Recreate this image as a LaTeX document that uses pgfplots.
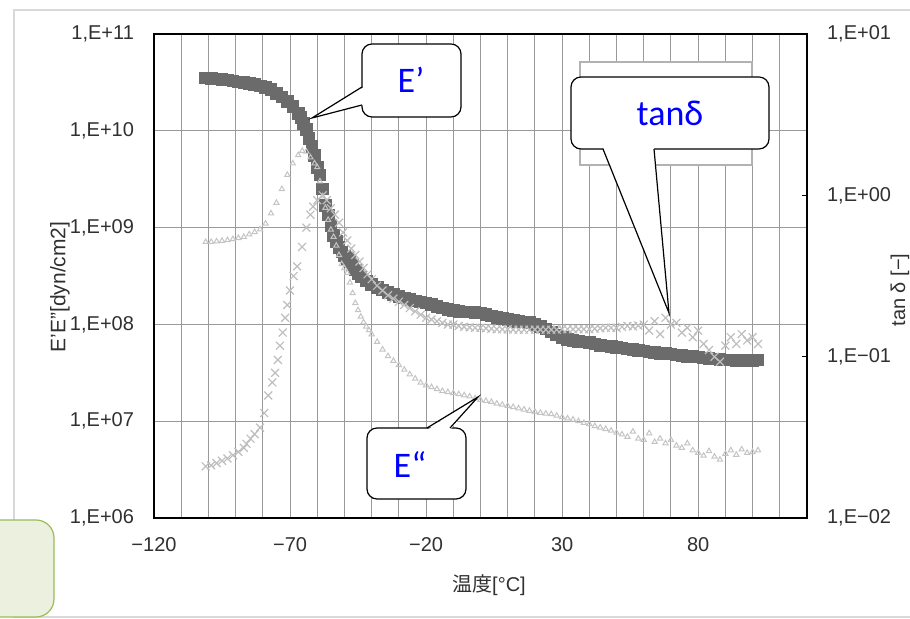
\documentclass[border=0pt]{standalone}
\usepackage{fontspec}
\setmainfont{Liberation Sans}
\newfontfamily\cjk{Noto Sans CJK JP}
\newfontfamily\callfont{Carlito}
\usepackage{pgfplots}
\pgfplotsset{compat=1.18}
\definecolor{edark}{HTML}{6B6B6B}
\definecolor{elight}{HTML}{C4C4C4}
\definecolor{tanc}{HTML}{BEBEBE}
\definecolor{gridc}{HTML}{9A9A9A}
\definecolor{tickc}{HTML}{303030}
\definecolor{boxfill}{HTML}{EBF1DE}
\definecolor{boxline}{HTML}{9BBB59}

\pgfplotstableread{
x y
-101 3.51e10
-99 3.48e10
-97 3.45e10
-95 3.39e10
-93 3.35e10
-91 3.27e10
-89 3.20e10
-87 3.14e10
-85 3.09e10
-83 3.00e10
-81 2.92e10
-79 2.82e10
-77 2.66e10
-75 2.45e10
-73 2.24e10
-71 2.02e10
-69 1.78e10
-67 1.52e10
-66 1.38e10
-65 1.20e10
-64 1.04e10
-63 8.3e9
-62 6.9e9
-61 5.6e9
-60 4.2e9
-59 3.5e9
-58 2.5e9
-57 1.7e9
-56 1.35e9
-55 1.05e9
-54 8.3e8
-53 7.2e8
-52 6.2e8
-51 5.6e8
-50 5.1e8
-49 4.8e8
-48 4.5e8
-47 4.1e8
-46 3.65e8
-45 3.35e8
-44 3.1e8
-42 2.8e8
-40 2.6e8
-38 2.42e8
-36 2.28e8
-34 2.15e8
-32 2.05e8
-30 1.95e8
-28 1.88e8
-26 1.81e8
-24 1.75e8
-22 1.70e8
-20 1.66e8
-18 1.60e8
-16 1.54e8
-14 1.48e8
-12 1.43e8
-10 1.39e8
-8 1.37e8
-6 1.35e8
-4 1.34e8
-2 1.33e8
0 1.32e8
2 1.27e8
4 1.22e8
6 1.18e8
8 1.15e8
10 1.12e8
12 1.10e8
14 1.08e8
16 1.06e8
18 1.05e8
20 1.00e8
22 9.5e7
24 9.0e7
26 8.4e7
28 7.8e7
30 7.3e7
32 7.0e7
34 6.8e7
36 6.7e7
38 6.6e7
40 6.5e7
42 6.3e7
44 6.1e7
46 6.0e7
48 5.9e7
50 5.8e7
52 5.7e7
54 5.6e7
56 5.5e7
58 5.4e7
60 5.3e7
62 5.2e7
64 5.1e7
66 5.05e7
68 5.0e7
70 4.95e7
72 4.85e7
74 4.75e7
76 4.7e7
78 4.65e7
80 4.6e7
82 4.5e7
84 4.45e7
86 4.4e7
88 4.35e7
90 4.3e7
92 4.3e7
94 4.25e7
96 4.25e7
98 4.25e7
100 4.25e7
102 4.3e7
}\storage

\pgfplotstableread{
x y
-101 7.1e8
-99 7.1e8
-97 7.2e8
-95 7.3e8
-93 7.4e8
-91 7.6e8
-89 7.8e8
-87 8.0e8
-85 8.5e8
-83 9.0e8
-81 9.6e8
-79 1.1e9
-77 1.4e9
-75 1.8e9
-73 2.5e9
-71 3.5e9
-69 4.6e9
-67 5.6e9
-65.5 6.2e9
-64 6.1e9
-62.5 5.3e9
-61 4.6e9
-60 4.2e9
-59 3.0e9
-58 2.1e9
-57 1.6e9
-56 1.2e9
-55 9.5e8
-54 8.0e8
-53 6.5e8
-52 5.2e8
-51 4.2e8
-50 3.8e8
-49 3.4e8
-48 2.7e8
-47 2.1e8
-46 1.66e8
-45 1.4e8
-44 1.2e8
-43 1.05e8
-42 9.5e7
-41 8.7e7
-40 7.9e7
-38 6.6e7
-36 5.5e7
-34 4.7e7
-32 4.2e7
-30 3.8e7
-28 3.4e7
-26 3.05e7
-24 2.75e7
-22 2.5e7
-20 2.35e7
-18 2.25e7
-16 2.15e7
-14 2.05e7
-12 2.0e7
-10 1.95e7
-8 1.9e7
-6 1.85e7
-4 1.8e7
-2 1.72e7
0 1.66e7
2 1.62e7
4 1.58e7
6 1.52e7
8 1.48e7
10 1.44e7
12 1.40e7
14 1.36e7
16 1.32e7
18 1.28e7
20 1.25e7
22 1.22e7
24 1.2e7
26 1.18e7
28 1.14e7
30 1.10e7
32 1.07e7
34 1.04e7
36 1.0e7
38 9.6e6
40 9.3e6
42 8.9e6
44 8.6e6
46 8.3e6
48 8.0e6
50 7.6e6
52 7.3e6
54 6.9e6
56 7.8e6
58 6.6e6
60 6.4e6
62 7.5e6
64 6.1e6
66 6.6e6
68 5.9e6
70 6.4e6
72 5.6e6
74 5.3e6
76 5.9e6
78 5.0e6
80 4.7e6
82 4.4e6
84 4.9e6
86 4.3e6
88 4.0e6
90 4.6e6
92 5.0e6
94 4.5e6
96 5.1e6
98 4.7e6
100 4.8e6
102 5.0e6
}\lossmod

\pgfplotstableread{
x y
-101 0.0209
-99 0.0212
-97 0.0219
-95 0.0226
-93 0.0234
-91 0.0245
-89 0.0257
-87 0.0272
-86 0.0288
-84.5 0.0310
-83 0.0331
-81 0.0363
-79.5 0.0447
-78 0.0575
-76.5 0.0692
-75.5 0.0794
-74.5 0.0955
-73.7 0.117
-72.7 0.141
-71.8 0.174
-71 0.209
-70 0.257
-68.7 0.316
-67.4 0.363
-65.6 0.479
-64 0.631
-62.5 0.759
-61.5 0.851
-60 0.933
-58 1.0
-56.5 0.933
-55 0.832
-53.5 0.759
-52 0.676
-50.5 0.589
-49 0.525
-47.5 0.468
-46 0.427
-44.5 0.389
-43 0.355
-41.5 0.324
-40 0.302
-38 0.275
-36 0.257
-34 0.240
-32 0.229
-30 0.219
-28 0.209
-26 0.200
-24 0.191
-22 0.182
-20 0.174
-18 0.170
-16 0.166
-14 0.162
-12 0.158
-10 0.158
-8 0.155
-6 0.153
-4 0.152
-2 0.151
0 0.151
2 0.150
4 0.149
6 0.148
8 0.148
10 0.148
12 0.147
14 0.147
16 0.147
18 0.147
20 0.147
22 0.147
24 0.147
26 0.147
28 0.147
30 0.148
32 0.148
34 0.148
36 0.148
38 0.148
40 0.148
42 0.149
44 0.150
46 0.151
48 0.151
50 0.151
52 0.153
54 0.155
56 0.154
58 0.156
60 0.158
62 0.145
64 0.166
66 0.138
68 0.174
70 0.158
72 0.162
74 0.141
76 0.151
78 0.132
80 0.145
82 0.120
84 0.110
86 0.100
88 0.093
90 0.117
92 0.132
94 0.120
96 0.138
98 0.126
100 0.132
102 0.120
}\tandelta

\begin{document}
\begin{tikzpicture}
\useasboundingbox (0pt,0pt) rectangle (455pt,309.5pt);
% outer frame and the leftover shape at the bottom left
\draw[color=black!15, line width=1.2pt] (7pt,1pt) rectangle (470pt,304.5pt);
\draw[draw=boxline, fill=boxfill, line width=0.6pt, rounded corners=9pt] (-12pt,1pt) rectangle (27pt,49.5pt);

\begin{axis}[
  at={(77pt,50.5pt)}, anchor=south west, scale only axis,
  width=326.5pt, height=242pt,
  xmin=-120, xmax=120, ymode=log, ymin=1e6, ymax=1e11,
  xtick={-120,-70,-20,30,80}, xticklabels={−120,−70,−20,30,80},
  minor xtick={-110,-100,...,110},
  ytick={1e6,1e7,1e8,1e9,1e10,1e11},
  yticklabels={{1,E+06},{1,E+07},{1,E+08},{1,E+09},{1,E+10},{1,E+11}},
  yminorticks=false,
  major tick length=0pt, minor tick length=0pt,
  xmajorgrids, xminorgrids, ymajorgrids,
  grid style={gridc, line width=0.5pt},
  minor grid style={gridc, line width=0.5pt},
  axis line style={black, line width=1pt},
  tick label style={font=\fontsize{10}{12}\selectfont, text=tickc},
  yticklabel style={xshift=-6.5pt},
  xticklabel style={yshift=-6pt},
  clip=false,
]
\addplot[only marks, mark=square*, mark size=2.9pt, color=edark] table {\storage};
\addplot[only marks, mark=triangle, mark size=1.5pt, color=elight, line width=0.5pt] table {\lossmod};
\end{axis}

% empty legend box
\draw[fill=white, draw=black!30, line width=1pt] (290pt,227pt) rectangle (376pt,278.5pt);

\begin{axis}[
  at={(77pt,50.5pt)}, anchor=south west, scale only axis,
  width=326.5pt, height=242pt,
  xmin=-120, xmax=120, ymode=log, ymin=1e-2, ymax=1e1,
  axis x line=none, axis y line*=right,
  ytick={1e-2,1e-1,1,1e1},
  yticklabels={{1,E−02},{1,E−01},{1,E+00},{1,E+01}},
  yminorticks=false,
  major tick length=2.5pt, tick align=inside,
  ytick style={black, line width=0.5pt},
  axis line style={black, line width=1pt},
  tick label style={font=\fontsize{10}{12}\selectfont, text=tickc},
  yticklabel style={xshift=6.5pt},
]
\addplot[only marks, mark=x, mark size=2.8pt, color=tanc, line width=0.6pt] table {\tandelta};
\end{axis}

% axis labels
\node[rotate=90, font=\fontsize{10.5}{12}\selectfont, text=tickc] at (30pt,166pt) {E'E''[dyn/cm2]};
\node[rotate=90, font=\fontsize{10}{12}\selectfont, text=tickc] at (450pt,164.5pt) {tan δ [−]};
\node[font=\fontsize{10}{12}\selectfont, text=tickc] at (244.5pt,17pt) {{\cjk 温度}[°C]};

% callouts
\draw[fill=white, line width=0.6pt, rounded corners=5pt] (181pt,251pt) rectangle (230.5pt,287.5pt);
\fill[white] (182pt,266pt) -- (156pt,250.5pt) -- (182pt,257pt) -- cycle;
\draw[line width=0.6pt] (181pt,266pt) -- (156pt,250.5pt) -- (181pt,257pt);
\node[font=\callfont\fontsize{18}{20}\selectfont, text=blue] at (205.5pt,269.5pt) {E’};

\draw[fill=white, line width=0.6pt, rounded corners=5pt] (285.5pt,235pt) rectangle (384.5pt,271pt);
\fill[white] (301.5pt,236pt) -- (334.5pt,153pt) -- (327pt,236pt) -- cycle;
\draw[line width=0.6pt] (301.5pt,235pt) -- (334.5pt,153pt) -- (327pt,235pt);
\node[font=\callfont\fontsize{18}{20}\selectfont, text=blue] at (335pt,253pt) {tanδ};

\draw[fill=white, line width=0.6pt, rounded corners=5pt] (183.5pt,60pt) rectangle (233pt,95.5pt);
\fill[white] (213.5pt,94.5pt) -- (239pt,111pt) -- (225pt,94.5pt) -- cycle;
\draw[line width=0.6pt] (213.5pt,95.5pt) -- (239pt,111pt) -- (225pt,95.5pt);
\node[font=\callfont\fontsize{18}{20}\selectfont, text=blue] at (205pt,77pt) {E“};
\end{tikzpicture}
\end{document}
